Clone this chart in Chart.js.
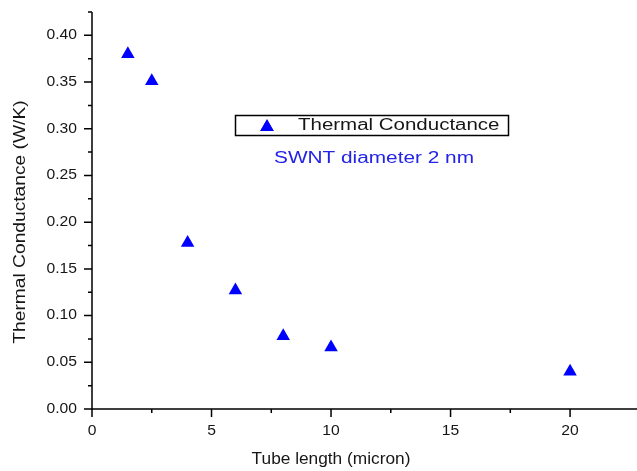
<!DOCTYPE html>
<html>
<head>
<meta charset="utf-8">
<script src="https://cdn.jsdelivr.net/npm/chart.js@4/dist/chart.umd.min.js"></script>
<style>
  html, body { margin: 0; padding: 0; background: #fff; }
  canvas { display: block; }
</style>
</head>
<body>
<canvas id="chart" width="637" height="471"></canvas>
<script>
// thermal conductance of a 2 nm SWNT against tube length
const tubeLength = [1.5, 2.5, 4, 6, 8, 10, 20];
const conductance = [0.380, 0.351, 0.178, 0.127, 0.078, 0.066, 0.040];

const xTickLabels = ['0', '5', '10', '15', '20'];
const yTickLabels = ['0.00', '0.05', '0.10', '0.15', '0.20', '0.25', '0.30', '0.35', '0.40'];

const seriesName = 'Thermal Conductance';
const noteText = 'SWNT diameter 2 nm';
const xTitle = 'Tube length (micron)';
const yTitle = 'Thermal Conductance (W/K)';

const FONT = '"Liberation Sans", Arial, sans-serif';
const MARKER_BLUE = '#0000ff';

// text drawn a little wide, like the original Origin export
function wideText(ctx, text, x, y, o) {
  ctx.save();
  ctx.translate(x, y);
  if (o.rotate) ctx.rotate(o.rotate);
  ctx.scale(o.sx || 1, 1);
  ctx.font = o.size + 'px ' + FONT;
  ctx.fillStyle = o.color || '#161616';
  ctx.textAlign = o.align || 'center';
  ctx.textBaseline = 'middle';
  ctx.fillText(text, 0, 0);
  ctx.restore();
}

const originAxes = {
  id: 'originAxes',
  afterDraw(chart) {
    const { ctx, chartArea: a, scales: { x, y } } = chart;
    ctx.save();
    ctx.strokeStyle = '#000';
    ctx.lineWidth = 1.5;

    ctx.beginPath();
    ctx.moveTo(a.left, a.top);
    ctx.lineTo(a.left, a.bottom);
    ctx.lineTo(a.right, a.bottom);
    ctx.stroke();

    // minor ticks from the scale's own steps, major ones from the labels
    ctx.beginPath();
    x.ticks.forEach(t => {
      const k = t.value / 2.5;
      if (Math.abs(k - Math.round(k)) > 1e-6 || Math.round(k) % 2 === 0) return;
      const px = x.getPixelForValue(t.value);
      ctx.moveTo(px, a.bottom); ctx.lineTo(px, a.bottom + 4);
    });
    y.ticks.forEach(t => {
      const k = Math.round(t.value / 0.025);
      if (k % 2 === 0) return;
      const py = y.getPixelForValue(t.value);
      ctx.moveTo(a.left, py); ctx.lineTo(a.left - 4, py);
    });
    xTickLabels.forEach(l => {
      const px = x.getPixelForValue(parseFloat(l));
      ctx.moveTo(px, a.bottom); ctx.lineTo(px, a.bottom + 8);
    });
    yTickLabels.forEach(l => {
      const py = y.getPixelForValue(parseFloat(l));
      ctx.moveTo(a.left, py); ctx.lineTo(a.left - 8, py);
    });
    ctx.stroke();

    xTickLabels.forEach(l => {
      wideText(ctx, l, x.getPixelForValue(parseFloat(l)), a.bottom + 22, { size: 14, sx: 1.12 });
    });
    yTickLabels.forEach(l => {
      wideText(ctx, l, a.left - 15, y.getPixelForValue(parseFloat(l)), { size: 14, sx: 1.12, align: 'right' });
    });

    wideText(ctx, xTitle, 331, 460, { size: 16, sx: 1.08 });
    wideText(ctx, yTitle, 21, 222, { size: 16, sx: 1.2, rotate: -Math.PI / 2 });

    // legend box with the series marker, note underneath
    ctx.lineWidth = 1.5;
    ctx.strokeRect(235.5, 115.5, 273, 20);
    ctx.fillStyle = MARKER_BLUE;
    Chart.helpers.drawPoint(ctx, { pointStyle: 'triangle', radius: 7.8, borderWidth: 0, rotation: 0 }, 267, 127);
    ctx.fill();
    wideText(ctx, seriesName, 298, 126, { size: 16, sx: 1.28, align: 'left' });
    wideText(ctx, noteText, 374, 159, { size: 16, sx: 1.3, color: '#2323e6' });

    ctx.restore();
  }
};

new Chart(document.getElementById('chart'), {
  type: 'scatter',
  data: {
    datasets: [{
      label: seriesName,
      data: tubeLength.map((v, i) => ({ x: v, y: conductance[i] })),
      pointStyle: 'triangle',
      pointRadius: 7.8,
      pointHoverRadius: 7.8,
      backgroundColor: MARKER_BLUE,
      borderColor: MARKER_BLUE,
      borderWidth: 0
    }]
  },
  options: {
    responsive: false,
    animation: false,
    layout: { autoPadding: false, padding: { top: 12, right: 0, bottom: 0, left: 0 } },
    plugins: { legend: { display: false }, tooltip: { enabled: false } },
    scales: {
      x: {
        type: 'linear', min: 0, max: 22.8,
        ticks: { display: false, stepSize: 2.5 },
        grid: { display: false, drawTicks: false },
        border: { display: false },
        afterFit(s) { s.height = 62; }
      },
      y: {
        type: 'linear', min: 0, max: 0.425,
        ticks: { display: false, stepSize: 0.025 },
        grid: { display: false, drawTicks: false },
        border: { display: false },
        afterFit(s) { s.width = 92; }
      }
    }
  },
  plugins: [originAxes]
});
</script>
</body>
</html>
